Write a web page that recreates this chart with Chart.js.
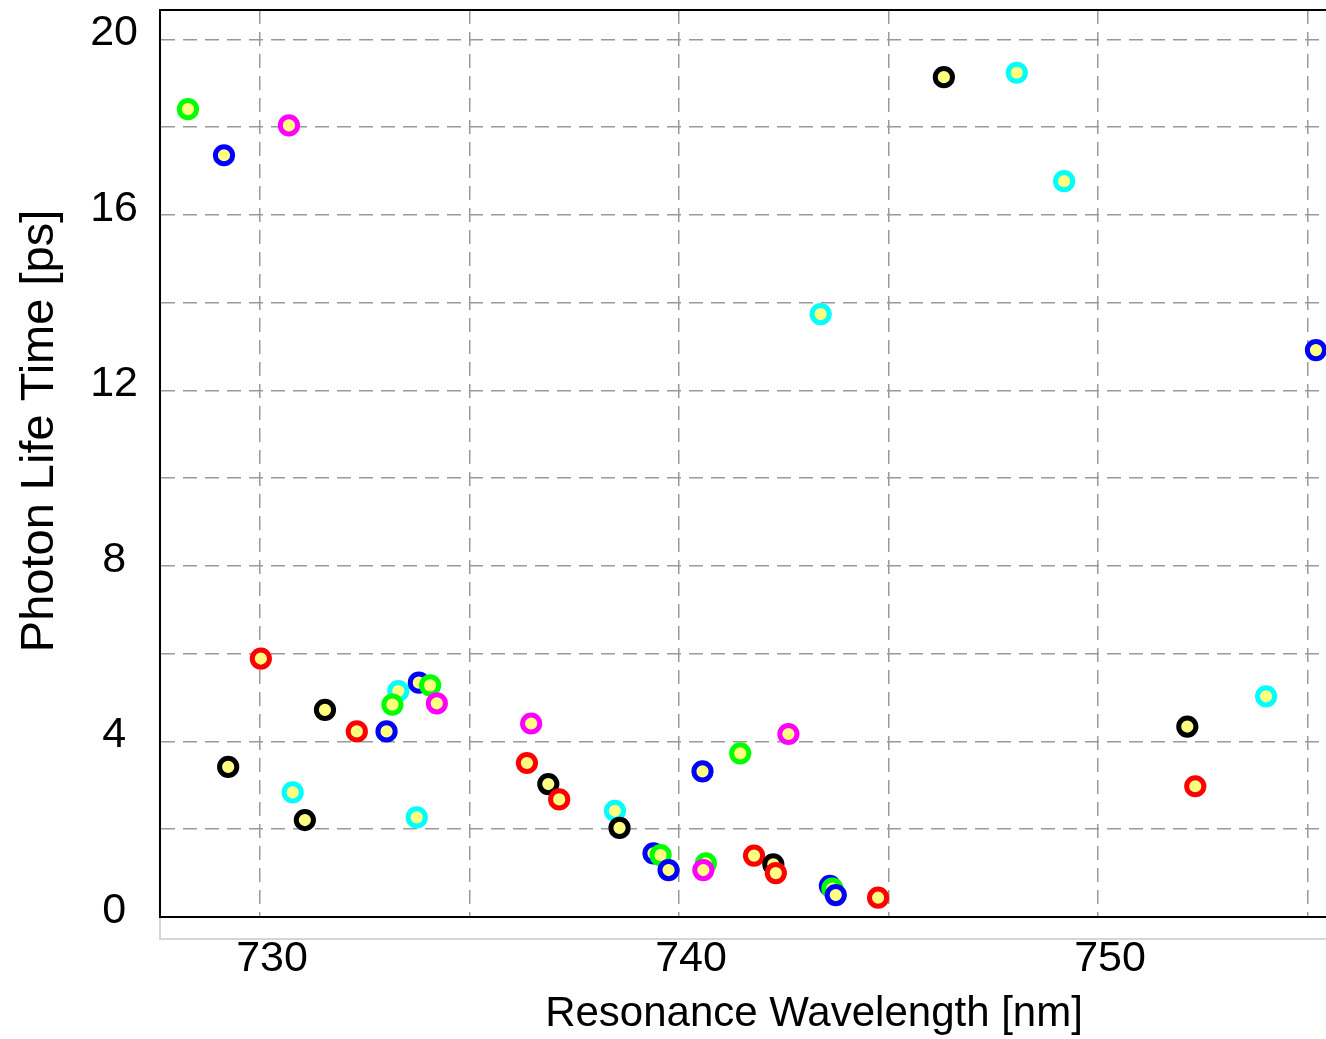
<!DOCTYPE html>
<html>
<head>
<meta charset="utf-8">
<title>Photon Life Time</title>
<script src="https://cdn.jsdelivr.net/npm/chart.js@4.4.1/dist/chart.umd.min.js"></script>
<style>
  html, body { margin: 0; padding: 0; background: #fff; overflow: hidden; }
  #wrap { width: 1326px; height: 1039px; position: relative; }
</style>
</head>
<body>
<div id="wrap"><canvas id="lifetimeChart"></canvas></div>
<script>
// resonances, in drawing order (later points sit on top)
const wavelength = [
  728.28, 729.14, 730.69, 729.24, 730.02, 730.78, 731.07, 731.55, 732.31, 733.02,
  733.30, 733.74, 733.79, 733.16, 734.06, 734.22, 736.47, 736.37, 736.88, 737.14,
  738.47, 738.58, 739.39, 739.56, 739.75, 740.56, 740.64, 740.58, 741.46, 741.79,
  742.25, 742.31, 742.61, 743.38, 743.60, 743.66, 743.74, 744.75, 746.32, 748.06,
  749.19, 752.13, 752.32, 754.01, 755.20
];
const lifetime = [
  18.41, 17.36, 18.04, 3.42, 5.89, 2.84, 2.21, 4.72, 4.23, 4.23,
  5.15, 2.27, 5.34, 4.84, 5.28, 4.87, 4.41, 3.51, 3.03, 2.68,
  2.42, 2.03, 1.45, 1.41, 1.07, 3.32, 1.22, 1.07, 3.73, 1.40,
  1.20, 1.00, 4.17, 13.74, 0.71, 0.65, 0.50, 0.44, 19.14, 19.24,
  16.77, 4.34, 2.98, 5.03, 12.92
];
// matlab colour code of the curve each resonance belongs to
const series = [
  "g", "b", "m", "k", "r", "c", "k", "k", "r", "b",
  "c", "c", "b", "g", "g", "m", "m", "r", "k", "r",
  "c", "k", "b", "g", "b", "b", "g", "m", "g", "r",
  "k", "r", "m", "c", "b", "g", "b", "r", "k", "c",
  "c", "k", "r", "c", "b"
];
const xTicks = [730, 740, 750];
const yTicks = [0, 4, 8, 12, 16, 20];

const seriesColor = { b: "#0000ff", g: "#00ff00", r: "#ff0000", c: "#00ffff", m: "#ff00ff", k: "#000000" };
const FONT = "'Liberation Sans', Arial, sans-serif";

// frame on top, grey strip under the axis and the two axis titles
const frameAndTitles = {
  id: "frameAndTitles",
  afterDraw(chart) {
    const { ctx, chartArea: a } = chart;
    ctx.save();
    ctx.strokeStyle = "#d6d6d6";
    ctx.lineWidth = 2;
    ctx.beginPath();
    ctx.moveTo(a.left, a.bottom + 1);
    ctx.lineTo(a.left, a.bottom + 22);
    ctx.lineTo(a.right, a.bottom + 22);
    ctx.stroke();

    ctx.strokeStyle = "#000";
    ctx.lineWidth = 2;
    ctx.beginPath();
    ctx.moveTo(a.left - 1, a.top);
    ctx.lineTo(a.right, a.top);
    ctx.stroke();

    ctx.fillStyle = "#000";
    ctx.textAlign = "center";
    ctx.textBaseline = "alphabetic";
    ctx.font = "42px " + FONT;
    ctx.fillText("Resonance Wavelength [nm]", 814, 1026);

    ctx.translate(53, 431);
    ctx.rotate(-Math.PI / 2);
    ctx.font = "47px " + FONT;
    ctx.fillText("Photon Life Time [ps]", 0, 0);
    ctx.restore();
  }
};

const gridStyle = {
  color: "#999",
  lineWidth: 1.5,
  drawTicks: false
};

new Chart(document.getElementById("lifetimeChart"), {
  type: "scatter",
  data: {
    datasets: [{
      data: wavelength.map((w, i) => ({ x: w, y: lifetime[i] })),
      pointRadius: 8.6,
      pointHoverRadius: 8.6,
      pointBorderWidth: 5,
      pointBackgroundColor: "#ffff80",
      pointBorderColor: series.map(s => seriesColor[s])
    }]
  },
  options: {
    responsive: true,
    maintainAspectRatio: false,
    animation: false,
    layout: { autoPadding: false, padding: { top: 10, left: 0, right: 0, bottom: 0 } },
    plugins: { legend: { display: false }, tooltip: { enabled: false } },
    scales: {
      x: {
        type: "linear",
        min: 727.613,
        max: 755.44,
        afterFit(scale) { scale.height = 122; scale.paddingLeft = 0; scale.paddingRight = 0; },
        grid: gridStyle,
        border: { display: true, color: "#000", width: 2, dash: [14, 8] },
        ticks: {
          stepSize: 5,
          includeBounds: false,
          padding: 16,
          labelOffset: 12,
          color: "#000",
          font: { family: FONT, size: 43 },
          maxRotation: 0,
          autoSkip: false,
          callback: v => (xTicks.includes(v) ? String(v) : "")
        }
      },
      y: {
        min: 0,
        max: 20.67,
        afterFit(scale) { scale.width = 160; scale.paddingTop = 0; scale.paddingBottom = 0; },
        grid: gridStyle,
        border: { display: true, color: "#000", width: 2, dash: [14, 8] },
        ticks: {
          stepSize: 2,
          includeBounds: false,
          padding: 22,
          crossAlign: "center",
          labelOffset: -6,
          color: "#000",
          font: { family: FONT, size: 43 },
          autoSkip: false,
          callback: v => (yTicks.includes(v) ? String(v) : "")
        }
      }
    }
  },
  plugins: [frameAndTitles]
});
</script>
</body>
</html>
